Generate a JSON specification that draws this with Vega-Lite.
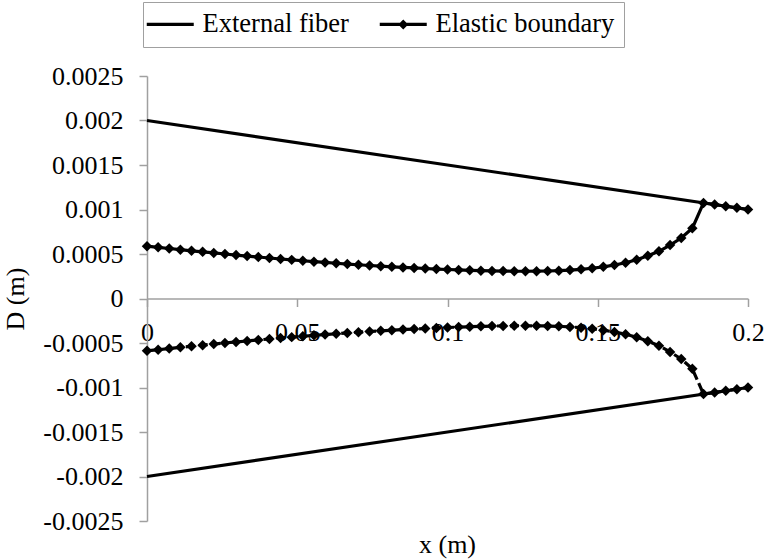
{
  "$schema": "https://vega.github.io/schema/vega-lite/v6.json",
  "width": 601,
  "height": 445,
  "autosize": {"type": "none"},
  "padding": {"left": 147, "top": 76, "right": 18, "bottom": 38},
  "background": "white",
  "title": {"text": "x (m)", "orient": "bottom", "anchor": "middle", "frame": "group", "font": "'Liberation Serif', 'Times New Roman', 'DejaVu Serif', serif", "fontSize": 26, "fontWeight": "normal", "color": "black", "baseline": "alphabetic", "offset": 19},
  "data": {"values": [
    {"s": "eu", "x": 0, "d": 0.002},
    {"s": "eu", "x": 0.2, "d": 0.001},
    {"s": "el", "x": 0, "d": -0.002},
    {"s": "el", "x": 0.2, "d": -0.001},
    {"s": "bu", "x": 0, "d": 0.000588},
    {"s": "bu", "x": 0.0037, "d": 0.000575},
    {"s": "bu", "x": 0.00741, "d": 0.000562},
    {"s": "bu", "x": 0.01111, "d": 0.000549},
    {"s": "bu", "x": 0.01481, "d": 0.000536},
    {"s": "bu", "x": 0.01852, "d": 0.000524},
    {"s": "bu", "x": 0.02222, "d": 0.000512},
    {"s": "bu", "x": 0.02593, "d": 0.0005},
    {"s": "bu", "x": 0.02963, "d": 0.000488},
    {"s": "bu", "x": 0.03333, "d": 0.000477},
    {"s": "bu", "x": 0.03704, "d": 0.000466},
    {"s": "bu", "x": 0.04074, "d": 0.000455},
    {"s": "bu", "x": 0.04444, "d": 0.000444},
    {"s": "bu", "x": 0.04815, "d": 0.000434},
    {"s": "bu", "x": 0.05185, "d": 0.000424},
    {"s": "bu", "x": 0.05556, "d": 0.000414},
    {"s": "bu", "x": 0.05926, "d": 0.000405},
    {"s": "bu", "x": 0.06296, "d": 0.000396},
    {"s": "bu", "x": 0.06667, "d": 0.000387},
    {"s": "bu", "x": 0.07037, "d": 0.000379},
    {"s": "bu", "x": 0.07407, "d": 0.000371},
    {"s": "bu", "x": 0.07778, "d": 0.000363},
    {"s": "bu", "x": 0.08148, "d": 0.000356},
    {"s": "bu", "x": 0.08519, "d": 0.000349},
    {"s": "bu", "x": 0.08889, "d": 0.000343},
    {"s": "bu", "x": 0.09259, "d": 0.000337},
    {"s": "bu", "x": 0.0963, "d": 0.000331},
    {"s": "bu", "x": 0.1, "d": 0.000326},
    {"s": "bu", "x": 0.1037, "d": 0.000321},
    {"s": "bu", "x": 0.10741, "d": 0.000317},
    {"s": "bu", "x": 0.11111, "d": 0.000313},
    {"s": "bu", "x": 0.11481, "d": 0.00031},
    {"s": "bu", "x": 0.11852, "d": 0.000308},
    {"s": "bu", "x": 0.12222, "d": 0.000306},
    {"s": "bu", "x": 0.12593, "d": 0.000306},
    {"s": "bu", "x": 0.12963, "d": 0.000307},
    {"s": "bu", "x": 0.13333, "d": 0.000309},
    {"s": "bu", "x": 0.13704, "d": 0.000313},
    {"s": "bu", "x": 0.14074, "d": 0.000319},
    {"s": "bu", "x": 0.14444, "d": 0.000328},
    {"s": "bu", "x": 0.14815, "d": 0.00034},
    {"s": "bu", "x": 0.15185, "d": 0.000356},
    {"s": "bu", "x": 0.15556, "d": 0.000376},
    {"s": "bu", "x": 0.15926, "d": 0.000401},
    {"s": "bu", "x": 0.16296, "d": 0.000435},
    {"s": "bu", "x": 0.16667, "d": 0.00048},
    {"s": "bu", "x": 0.17037, "d": 0.00053},
    {"s": "bu", "x": 0.17407, "d": 0.0006},
    {"s": "bu", "x": 0.17778, "d": 0.00068},
    {"s": "bu", "x": 0.18148, "d": 0.00079},
    {"s": "bu", "x": 0.18519, "d": 0.001074},
    {"s": "bu", "x": 0.18889, "d": 0.001056},
    {"s": "bu", "x": 0.19259, "d": 0.001037},
    {"s": "bu", "x": 0.1963, "d": 0.001019},
    {"s": "bu", "x": 0.2, "d": 0.001},
    {"s": "bl", "x": 0, "d": -0.000588},
    {"s": "bl", "x": 0.0037, "d": -0.000575},
    {"s": "bl", "x": 0.00741, "d": -0.000562},
    {"s": "bl", "x": 0.01111, "d": -0.000549},
    {"s": "bl", "x": 0.01481, "d": -0.000536},
    {"s": "bl", "x": 0.01852, "d": -0.000524},
    {"s": "bl", "x": 0.02222, "d": -0.000512},
    {"s": "bl", "x": 0.02593, "d": -0.0005},
    {"s": "bl", "x": 0.02963, "d": -0.000488},
    {"s": "bl", "x": 0.03333, "d": -0.000477},
    {"s": "bl", "x": 0.03704, "d": -0.000466},
    {"s": "bl", "x": 0.04074, "d": -0.000455},
    {"s": "bl", "x": 0.04444, "d": -0.000444},
    {"s": "bl", "x": 0.04815, "d": -0.000434},
    {"s": "bl", "x": 0.05185, "d": -0.000424},
    {"s": "bl", "x": 0.05556, "d": -0.000414},
    {"s": "bl", "x": 0.05926, "d": -0.000405},
    {"s": "bl", "x": 0.06296, "d": -0.000396},
    {"s": "bl", "x": 0.06667, "d": -0.000387},
    {"s": "bl", "x": 0.07037, "d": -0.000379},
    {"s": "bl", "x": 0.07407, "d": -0.000371},
    {"s": "bl", "x": 0.07778, "d": -0.000363},
    {"s": "bl", "x": 0.08148, "d": -0.000356},
    {"s": "bl", "x": 0.08519, "d": -0.000349},
    {"s": "bl", "x": 0.08889, "d": -0.000343},
    {"s": "bl", "x": 0.09259, "d": -0.000337},
    {"s": "bl", "x": 0.0963, "d": -0.000331},
    {"s": "bl", "x": 0.1, "d": -0.000326},
    {"s": "bl", "x": 0.1037, "d": -0.000321},
    {"s": "bl", "x": 0.10741, "d": -0.000317},
    {"s": "bl", "x": 0.11111, "d": -0.000313},
    {"s": "bl", "x": 0.11481, "d": -0.00031},
    {"s": "bl", "x": 0.11852, "d": -0.000308},
    {"s": "bl", "x": 0.12222, "d": -0.000306},
    {"s": "bl", "x": 0.12593, "d": -0.000306},
    {"s": "bl", "x": 0.12963, "d": -0.000307},
    {"s": "bl", "x": 0.13333, "d": -0.000309},
    {"s": "bl", "x": 0.13704, "d": -0.000313},
    {"s": "bl", "x": 0.14074, "d": -0.000319},
    {"s": "bl", "x": 0.14444, "d": -0.000328},
    {"s": "bl", "x": 0.14815, "d": -0.00034},
    {"s": "bl", "x": 0.15185, "d": -0.000356},
    {"s": "bl", "x": 0.15556, "d": -0.000376},
    {"s": "bl", "x": 0.15926, "d": -0.000401},
    {"s": "bl", "x": 0.16296, "d": -0.000435},
    {"s": "bl", "x": 0.16667, "d": -0.00048},
    {"s": "bl", "x": 0.17037, "d": -0.00053},
    {"s": "bl", "x": 0.17407, "d": -0.0006},
    {"s": "bl", "x": 0.17778, "d": -0.00068},
    {"s": "bl", "x": 0.18148, "d": -0.00079},
    {"s": "bl", "x": 0.18519, "d": -0.001074},
    {"s": "bl", "x": 0.18889, "d": -0.001056},
    {"s": "bl", "x": 0.19259, "d": -0.001037},
    {"s": "bl", "x": 0.1963, "d": -0.001019},
    {"s": "bl", "x": 0.2, "d": -0.001}
  ]},
  "encoding": {
    "x": {"field": "x", "type": "quantitative",
      "scale": {"domain": [0, 0.2], "nice": false, "zero": false},
      "axis": {"orient": "bottom", "offset": -222.5, "values": [0, 0.05, 0.1, 0.15, 0.2], "labelExpr": "toString(datum.value)", "title": null, "grid": false, "tickSize": 8, "labelPadding": 13, "labelFlush": false, "labelOverlap": false, "labelFont": "'Liberation Serif', 'Times New Roman', serif", "labelFontSize": 26, "labelColor": "black"}},
    "y": {"field": "d", "type": "quantitative",
      "scale": {"domain": [-0.0025, 0.0025], "nice": false, "zero": false},
      "axis": {"orient": "left", "values": [-0.0025, -0.002, -0.0015, -0.001, -0.0005, 0, 0.0005, 0.001, 0.0015, 0.002, 0.0025], "labelExpr": "toString(datum.value)", "title": "D (m)", "grid": false, "tickSize": 8, "labelPadding": 16, "titlePadding": 14, "labelFlush": false, "labelOverlap": false, "labelFont": "'Liberation Serif', 'Times New Roman', serif", "labelFontSize": 26, "labelColor": "black", "titleFont": "'Liberation Serif', 'Times New Roman', serif", "titleFontSize": 26, "titleFontWeight": "normal", "titleColor": "black"}}
  },
  "layer": [
    {"transform": [{"filter": "datum.s == 'eu' || datum.s == 'el'"}],
     "mark": {"type": "line", "color": "black", "strokeWidth": 3.2},
     "encoding": {"detail": {"field": "s"}}},
    {"transform": [{"filter": "datum.s == 'bu'"}],
     "mark": {"type": "line", "color": "black", "strokeWidth": 3.2},
     "encoding": {}},
    {"transform": [{"filter": "datum.s == 'bl'"}],
     "mark": {"type": "line", "color": "black", "strokeWidth": 3.2, "strokeDash": [9, 4]},
     "encoding": {}},
    {"transform": [{"filter": "datum.s == 'bu' || datum.s == 'bl'"}],
     "mark": {"type": "point", "shape": "diamond", "filled": true, "color": "black", "size": 110, "opacity": 1},
     "encoding": {}},
    {"transform": [{"filter": "false"}],
     "mark": {"type": "point", "filled": true, "color": "black", "opacity": 1},
     "encoding": {
       "shape": {"field": "s", "type": "nominal",
         "scale": {"domain": ["External fiber", "Elastic boundary"], "range": ["M-2.35,-0.16H2.35V0.16H-2.35Z", "M-2.35,-0.16H2.35V0.16H-2.35ZM0,-0.5L0.5,0L0,0.5L-0.5,0Z"]},
         "legend": {"title": null, "orient": "none", "legendX": -4, "legendY": -74, "direction": "horizontal", "padding": 9, "strokeColor": "#a0a0a0", "fillColor": "white", "labelFont": "'Liberation Serif', 'Times New Roman', 'DejaVu Serif', serif", "labelFontSize": 26.5, "labelColor": "black", "labelLimit": 400, "symbolSize": 400, "symbolStrokeWidth": 0, "symbolFillColor": "black", "symbolOpacity": 1, "symbolOffset": 5, "labelOffset": 19, "columnPadding": 30}}
     }}
  ],
  "config": {
    "font": "'Liberation Serif', 'Times New Roman', serif",
    "view": {"stroke": null},
    "axis": {"domainColor": "#a0a0a0", "domainWidth": 1.5, "tickColor": "#a0a0a0", "tickWidth": 1.5, "labelFont": "'Liberation Serif', 'Times New Roman', serif", "titleFont": "'Liberation Serif', 'Times New Roman', serif"}
  }
}
